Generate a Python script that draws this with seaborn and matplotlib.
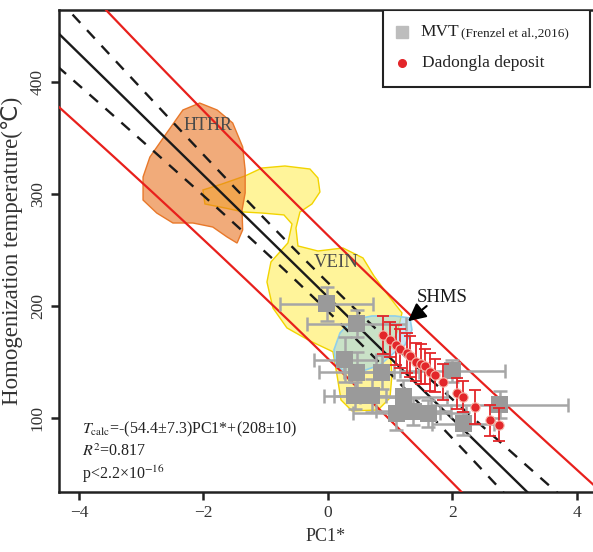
import numpy as np
import pandas as pd
import matplotlib
matplotlib.use("Agg")
import matplotlib.pyplot as plt
from matplotlib.patches import Polygon, Rectangle
import seaborn as sns

# ---- MVT deposits (Frenzel et al., 2016) ----
mvt_pc1 = [-0.02, 0.46, 0.27, 0.46, 0.86, 0.43, 0.70, 1.21, 1.10, 1.37, 1.61, 2.17, 2.76, 2.00]
mvt_temp = [202, 184, 152, 141, 141, 120, 120, 119, 104, 106, 104, 95, 112, 142]
mvt_pc1_err = [0.75, 0.80, 0.50, 0.60, 0.60, 0.50, 0.60, 0.70, 0.70, 0.60, 0.60, 0.50, 1.10, 0.85]
mvt_temp_err = [15, 12, 20, 18, 15, 12, 15, 15, 15, 12, 12, 10, 12, 10]

# ---- Dadongla deposit ----
ddl_pc1 = [0.89, 1.00, 1.10, 1.16, 1.27, 1.32, 1.42, 1.50, 1.56, 1.64, 1.72, 1.85, 2.07, 2.17, 2.36, 2.60, 2.74]
ddl_temp = [174, 170, 165, 162, 158, 155, 150, 148, 146, 141, 138, 132, 122, 119, 110, 98, 94]
ddl_temp_err = [17, 16, 18, 17, 18, 18, 17, 18, 16, 17, 15, 16, 14, 14, 15, 14, 15]

# ---- regression T_calc = -(54.4±7.3)PC1* + (208±10) ----
slope = -54.4
intercept = 208.0
band_center = 0.1
ci_half0, ci_grow = 12.8, 6.2      # dashed confidence band
pi_half0, pi_grow = 55.0, 8.0      # red prediction band

# ---- deposit-type fields (PC1*, temperature outlines) ----
hthr_pc1 = [-2.97, -2.86, -2.59, -2.33, -2.06, -1.78, -1.53, -1.37, -1.33, -1.33, -1.38, -1.37,
            -1.46, -1.62, -1.85, -2.17, -2.49, -2.75, -2.97]
hthr_temp = [315.2, 333.0, 354.5, 375.0, 381.2, 375.0, 363.4, 342.0, 321.4, 300.9, 285.7, 267.9,
             256.2, 261.6, 270.5, 274.1, 274.1, 283.0, 294.6]

vein_pc1 = [-2.008, -1.703, -1.333, -1.060, -0.691, -0.289, -0.161, -0.129, -0.257, -0.450, -0.514,
            -0.482, -0.161, 0.241, 0.562, 0.739, 0.964, 1.189, 1.124, 0.996, 1.028, 0.996, 0.803,
            0.386, 0.209, 0.145, 0.080, -0.289, -0.659, -0.884, -0.980, -0.916, -0.643, -0.578,
            -0.707, -1.060, -1.349, -1.655, -1.976]
vein_temp = [303.6, 308.9, 316.1, 323.2, 325.0, 322.3, 314.3, 301.8, 291.1, 283.9, 269.6,
             253.6, 249.1, 251.8, 242.9, 226.8, 209.8, 193.8, 178.6, 160.7, 138.4, 117.9, 107.1,
             106.3, 116.1, 138.4, 159.1, 168.8, 180.4, 198.2, 221.4, 239.3, 256.3, 273.2,
             281.3, 283.0, 283.9, 287.5, 291.1]

shms_pc1 = [0.193, 0.386, 0.707, 1.076, 1.317, 1.349, 1.237, 1.076, 0.835, 0.514, 0.273, 0.129, 0.096]
shms_temp = [175.9, 187.5, 191.1, 191.1, 189.3, 178.6, 165.2, 158.9, 147.3, 141.1, 141.1, 147.3, 160.7]

x_ticks = [-4, -2, 0, 2, 4]
y_ticks = [100, 200, 300, 400]

sns.set_theme(style="ticks")
plt.rcParams["font.family"] = ["Liberation Serif", "DejaVu Sans"]
plt.rcParams["mathtext.fontset"] = "stix"
plt.rcParams["axes.unicode_minus"] = True

fig = plt.figure(figsize=(5.93, 5.52), dpi=100)
ax = fig.add_axes([0.0995, 0.1087, 0.9005, 0.8732])
ax.set_xlim(-4.32, 4.257)
ax.set_ylim(33.9, 464.3)

# fields
ax.add_patch(Polygon(np.column_stack([vein_pc1, vein_temp]), closed=True,
                     facecolor=(1.0, 0.94, 0.42, 0.68), edgecolor="#f2d400", lw=1.0, zorder=1))
ax.add_patch(Polygon(np.column_stack([hthr_pc1, hthr_temp]), closed=True,
                     facecolor=(0.91, 0.45, 0.13, 0.6), edgecolor="#e8782a", lw=1.0, zorder=1.5))
ax.add_patch(Polygon(np.column_stack([shms_pc1, shms_temp]), closed=True,
                     facecolor=(0.62, 0.83, 0.93, 0.55), edgecolor="#8fd0ec", lw=1.2, zorder=1.8))

# regression line and bands
xs = np.linspace(-4.6, 4.6, 300)
fit = slope * xs + intercept
ci = np.sqrt(ci_half0 ** 2 + (ci_grow * (xs - band_center)) ** 2)
pi = np.sqrt(pi_half0 ** 2 + (pi_grow * (xs - band_center)) ** 2)
lines = pd.DataFrame({"pc1": xs, "fit": fit, "ci_hi": fit + ci, "ci_lo": fit - ci,
                      "pi_hi": fit + pi, "pi_lo": fit - pi})
sns.lineplot(data=lines, x="pc1", y="fit", color="#1a1a1a", lw=1.7, ax=ax, zorder=3)
for col in ["ci_hi", "ci_lo"]:
    sns.lineplot(data=lines, x="pc1", y=col, color="#1a1a1a", lw=1.7, ax=ax, zorder=3,
                 linestyle=(0, (4.8, 4.2)))
for col in ["pi_hi", "pi_lo"]:
    sns.lineplot(data=lines, x="pc1", y=col, color="#e8201c", lw=1.6, ax=ax, zorder=3)

# MVT points
ax.errorbar(mvt_pc1, mvt_temp, xerr=mvt_pc1_err, yerr=mvt_temp_err, fmt="none",
            ecolor="#a6a6a6", elinewidth=1.8, capsize=5, capthick=1.8, zorder=4)
sns.scatterplot(x=mvt_pc1, y=mvt_temp, marker="s", s=150, color="#9a9a9a",
                edgecolor="none", ax=ax, zorder=5)

# Dadongla points
ax.errorbar(ddl_pc1, ddl_temp, yerr=ddl_temp_err, fmt="none", ecolor="#e3262a",
            elinewidth=1.3, capsize=4.5, capthick=1.3, zorder=6)
sns.scatterplot(x=ddl_pc1, y=ddl_temp, marker="o", s=45, color="#e3262a",
                edgecolor="#f7b9ac", linewidth=0.8, ax=ax, zorder=7)

# field labels
ax.text(-1.93, 361.6, "HTHR", fontsize=13, color="#4a4a4a", ha="center", va="center", zorder=8)
ax.text(0.13, 238.4, "VEIN", fontsize=13.5, color="#4a4a4a", ha="center", va="center", zorder=8)
ax.text(1.83, 208, "SHMS", fontsize=13.5, color="#1a1a1a", ha="center", va="center", zorder=8)
ax.annotate("", xy=(1.25, 184.8), xytext=(1.62, 201.5),
            arrowprops=dict(arrowstyle="-|>,head_length=0.9,head_width=0.45",
                            color="black", lw=1.5), zorder=8)

# statistics
ax.text(0.043, 0.129, r"$T_{\rm calc}$=-(54.4±7.3)PC1*+(208±10)", transform=ax.transAxes,
        fontsize=11.5, va="center", ha="left", color="#222222")
ax.text(0.043, 0.083, r"$R^2$=0.817", transform=ax.transAxes,
        fontsize=11.5, va="center", ha="left", color="#222222")
ax.text(0.043, 0.037, r"p<2.2×10$^{-16}$", transform=ax.transAxes,
        fontsize=11.5, va="center", ha="left", color="#222222")

# legend box
ax.add_patch(Rectangle((0.607, 0.840), 0.387, 0.160, transform=ax.transAxes,
                       facecolor="white", edgecolor="#222222", lw=1.5, zorder=9))
ax.plot([0.642], [0.955], marker="s", ms=8.5, color="#bdbdbd", transform=ax.transAxes,
        zorder=10, clip_on=False)
ax.plot([0.642], [0.890], marker="o", ms=5.5, color="#e3262a", transform=ax.transAxes,
        zorder=10, clip_on=False)
t_mvt = ax.text(0.676, 0.955, "MVT", transform=ax.transAxes, fontsize=12.5,
                va="center", ha="left", color="#222222", zorder=10)
ax.text(0.680, 0.890, "Dadongla deposit", transform=ax.transAxes, fontsize=12.5,
        va="center", ha="left", color="#222222", zorder=10)
fig.canvas.draw()
bb = t_mvt.get_window_extent().transformed(ax.transAxes.inverted())
ax.text(bb.x1 + 0.004, 0.952, "(Frenzel et al.,2016)", transform=ax.transAxes, fontsize=9.5,
        va="center", ha="left", color="#222222", zorder=10)

# axes styling
ax.set_xticks(x_ticks)
ax.set_yticks(y_ticks)
ax.tick_params(axis="both", direction="out", length=6, width=1.8, color="#222222",
               labelsize=12.5, labelcolor="#333333")
for lab in ax.get_yticklabels():
    lab.set_rotation(90)
    lab.set_va("center")
ax.spines["right"].set_visible(False)
for s in ["left", "bottom", "top"]:
    ax.spines[s].set_linewidth(1.8)
    ax.spines[s].set_color("#222222")
ax.set_xlabel("PC1*", fontsize=13, color="#333333", labelpad=5)
ax.set_ylabel("Homogenization temperature(℃)", fontsize=16.5, color="#333333", labelpad=5)

fig.savefig("out.png", dpi=100)
